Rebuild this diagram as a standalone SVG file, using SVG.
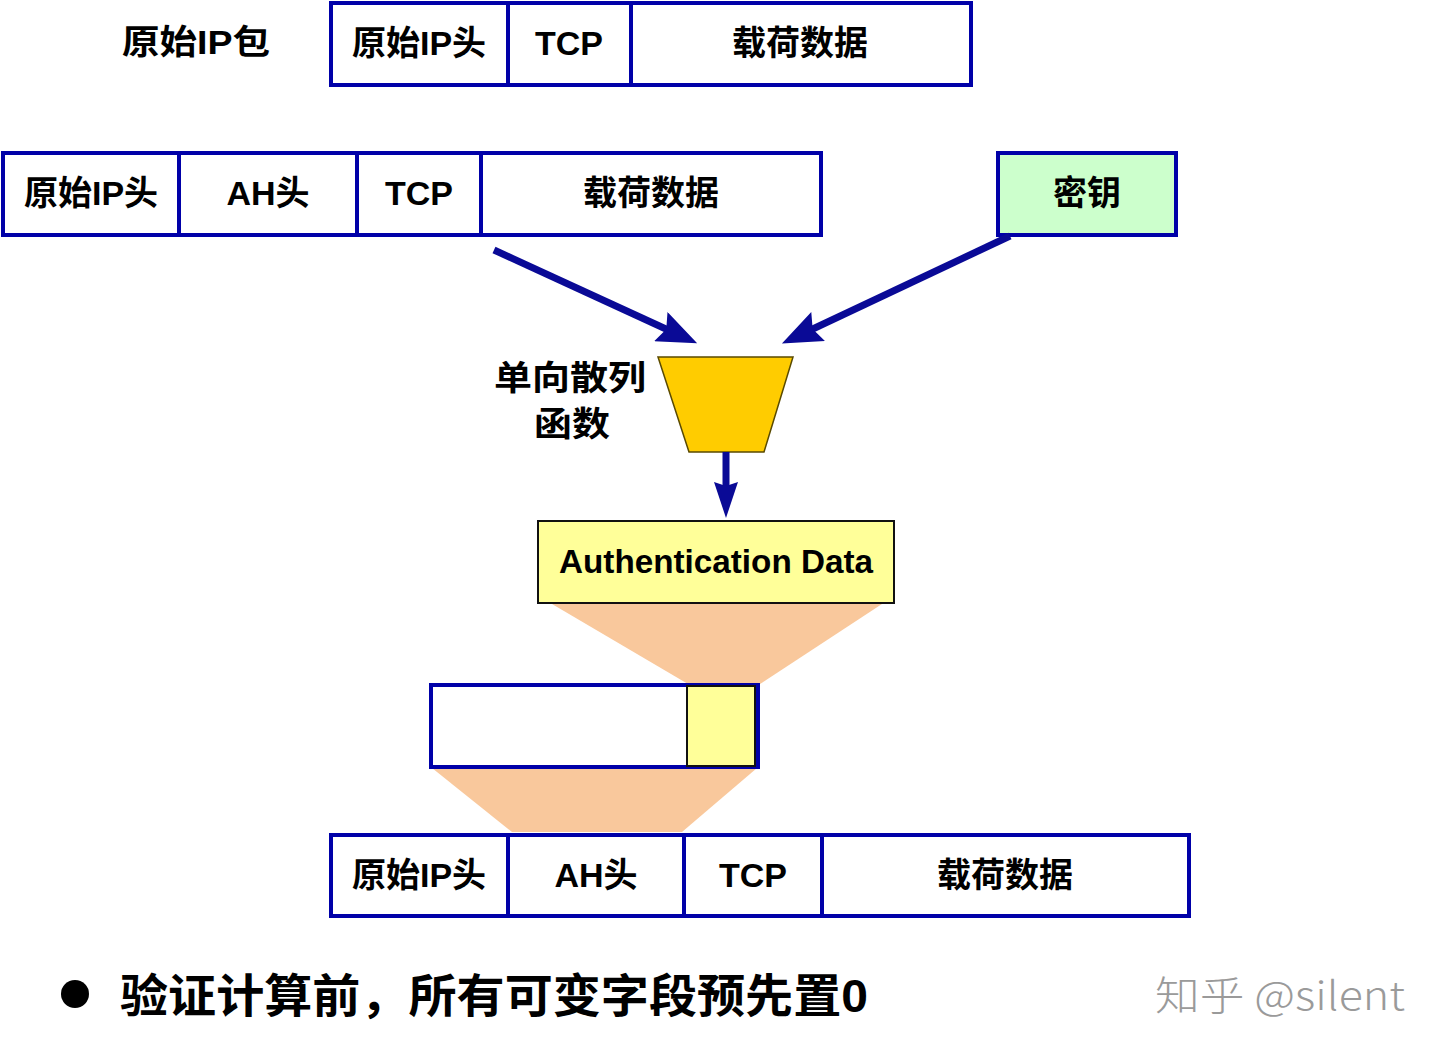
<svg xmlns="http://www.w3.org/2000/svg" width="1440" height="1054" viewBox="0 0 1440 1054">
<defs>
<style>
.box{fill:#fff;stroke:#0000A8;stroke-width:4}
.div{stroke:#0000A8;stroke-width:4}
.t{font-family:"Liberation Sans","Noto Sans CJK SC",sans-serif;font-weight:bold;font-size:34px;fill:#000;text-anchor:middle}
.conn{stroke:#0A0A96;stroke-width:7;fill:none}
</style>
<marker id="ah" viewBox="0 0 40 32" refX="20" refY="16" markerWidth="40" markerHeight="32" orient="auto" markerUnits="userSpaceOnUse">
<path d="M0,0 L40,16 L0,32 L6,16 Z" fill="#0A0A96"/>
</marker>
<marker id="ahs" viewBox="0 0 36 24" refX="18" refY="12" markerWidth="36" markerHeight="24" orient="auto" markerUnits="userSpaceOnUse">
<path d="M0,0 L36,12 L0,24 L4,12 Z" fill="#0A0A96"/>
</marker>
</defs>
<rect width="1440" height="1054" fill="#fff"/>

<g id="orig-label"><text class="t" x="196" y="54" font-size="40" textLength="148" lengthAdjust="spacingAndGlyphs">原始IP包</text></g>

<g id="orig-packet">
<rect class="box" x="331" y="3" width="640" height="82"/>
<line class="div" x1="508" y1="3" x2="508" y2="85"/>
<line class="div" x1="631" y1="3" x2="631" y2="85"/>
<text class="t" x="419" y="55">原始IP头</text>
<text class="t" x="569" y="55">TCP</text>
<text class="t" x="800" y="55">载荷数据</text>
</g>

<g id="ah-packet">
<rect class="box" x="3" y="153" width="818" height="82"/>
<line class="div" x1="179" y1="153" x2="179" y2="235"/>
<line class="div" x1="357" y1="153" x2="357" y2="235"/>
<line class="div" x1="481" y1="153" x2="481" y2="235"/>
<text class="t" x="91" y="205">原始IP头</text>
<text class="t" x="268" y="205">AH头</text>
<text class="t" x="419" y="205">TCP</text>
<text class="t" x="651" y="205">载荷数据</text>
</g>

<g id="key">
<rect x="998" y="153" width="178" height="82" fill="#CCFFCC" stroke="#0000A8" stroke-width="4"/>
<text class="t" x="1087" y="205">密钥</text>
</g>

<g id="hash">
<polygon points="658,357 793,357 764,452 689,452" fill="#FFCC00" stroke="#5a4a00" stroke-width="1.5"/>
<text class="t" x="570" y="390" font-size="41" textLength="152" lengthAdjust="spacingAndGlyphs">单向散列</text>
<text class="t" x="572" y="436" font-size="41" textLength="76" lengthAdjust="spacingAndGlyphs">函数</text>
</g>

<g id="funnels">
<polygon points="552,604 882,604 760,684 688,684" fill="#F9C89C"/>
<polygon points="432,768 757,768 682,832 512,832" fill="#F9C89C"/>
</g>

<g id="auth">
<rect x="538" y="521" width="356" height="82" fill="#FFFF99" stroke="#111" stroke-width="2"/>
<text class="t" x="716" y="573" font-size="32" textLength="314" lengthAdjust="spacingAndGlyphs">Authentication Data</text>
</g>

<g id="ah-field">
<rect class="box" x="431" y="685" width="327" height="82"/>
<rect x="687" y="686" width="68" height="80" fill="#FFFF99" stroke="#111" stroke-width="2"/>
</g>

<g id="result-packet">
<rect class="box" x="331" y="835" width="858" height="81"/>
<line class="div" x1="508" y1="835" x2="508" y2="916"/>
<line class="div" x1="684" y1="835" x2="684" y2="916"/>
<line class="div" x1="822" y1="835" x2="822" y2="916"/>
<text class="t" x="419" y="887">原始IP头</text>
<text class="t" x="596" y="887">AH头</text>
<text class="t" x="753" y="887">TCP</text>
<text class="t" x="1005" y="887">载荷数据</text>
</g>

<g id="connectors">
<line class="conn" x1="494" y1="250" x2="679" y2="335" marker-end="url(#ah)"/>
<line class="conn" x1="1010" y1="236" x2="800" y2="335" marker-end="url(#ah)"/>
<line class="conn" x1="726" y1="452" x2="726" y2="500" stroke-width="5" marker-end="url(#ahs)"/>
</g>

<g id="note">
<circle cx="75" cy="994" r="14" fill="#000"/>
<text x="120" y="1012" font-family="'Liberation Sans','Noto Sans CJK SC',sans-serif" font-weight="bold" font-size="46" textLength="748" lengthAdjust="spacingAndGlyphs">验证计算前，所有可变字段预先置0</text>
</g>

<g id="watermark">
<text x="1155" y="1010" font-family="'Noto Sans CJK SC',sans-serif" font-weight="300" font-size="40" fill="#9a9a9a" textLength="250" lengthAdjust="spacingAndGlyphs">知乎 @silent</text>
</g>
</svg>
